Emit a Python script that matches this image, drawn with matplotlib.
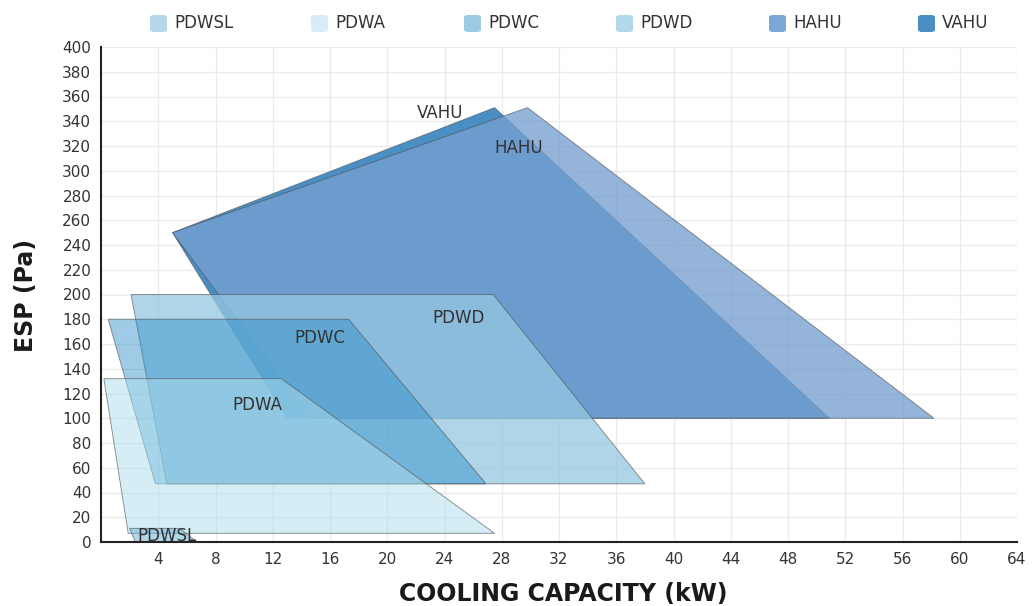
import matplotlib.pyplot as plt
from matplotlib.patches import Polygon, FancyBboxPatch

# series names (legend order)
names = ['PDWSL', 'PDWA', 'PDWC', 'PDWD', 'HAHU', 'VAHU']

# polygon vertices: cooling capacity (kW) / ESP (Pa)
pdwsl_kw = [2.0, 5.5, 6.7, 2.4]
pdwsl_pa = [11, 11, 0, 0]
pdwa_kw = [0.2, 12.6, 27.5, 1.9]
pdwa_pa = [132, 132, 7, 7]
pdwc_kw = [0.5, 17.3, 26.9, 3.8]
pdwc_pa = [180, 180, 47, 47]
pdwd_kw = [2.1, 27.4, 38.0, 4.6]
pdwd_pa = [200, 200, 47, 47]
hahu_kw = [5.0, 29.8, 58.2, 14.6]
hahu_pa = [250, 351, 100, 100]
vahu_kw = [5.0, 27.5, 50.9, 13.0]
vahu_pa = [250, 351, 100, 100]

xticks = list(range(4, 65, 4))
yticks = list(range(0, 401, 20))

legend_colors = ['#b4d8e9', '#d5eef6', '#9dcbe6', '#b3d8eb', '#7ba7d6', '#4a8fc4']
fill_colors = ['#69b1d3', '#addded', '#2a8cc8', '#96c8e2', '#769fd0', '#4a8fc4']
fill_alpha = [0.5, 0.5, 0.45, 0.75, 0.78, 1.0]

shapes = {
    'PDWSL': (pdwsl_kw, pdwsl_pa),
    'PDWA': (pdwa_kw, pdwa_pa),
    'PDWC': (pdwc_kw, pdwc_pa),
    'PDWD': (pdwd_kw, pdwd_pa),
    'HAHU': (hahu_kw, hahu_pa),
    'VAHU': (vahu_kw, vahu_pa),
}
# where the series names are written
label_pos = {
    'VAHU': (23.7, 347), 'HAHU': (29.2, 318), 'PDWD': (25.0, 181),
    'PDWC': (15.3, 165), 'PDWA': (10.9, 111), 'PDWSL': (4.6, 5),
}

plt.rcParams['font.family'] = ['DejaVu Sans']

W, H = 1033, 606
fig = plt.figure(figsize=(W / 100, H / 100), dpi=100)
ax = fig.add_axes([101 / W, 64 / H, 916 / W, 495 / H])

# last legend entry is drawn first (bottom)
for i, name in enumerate(reversed(names)):
    k = names.index(name)
    xs, ys = shapes[name]
    pts = list(zip(xs, ys))
    ax.add_patch(Polygon(pts, closed=True, facecolor=fill_colors[k],
                         alpha=fill_alpha[k], edgecolor='none', zorder=2 + i))
    ax.add_patch(Polygon(pts, closed=True, fill=False, edgecolor='#505050',
                         linewidth=0.7, alpha=0.6, zorder=2 + i))

for name in names:
    tx, ty = label_pos[name]
    ax.text(tx, ty, name, ha='center', va='center', fontsize=12,
            color='#333333', zorder=20)

ax.set_xlim(0, 64)
ax.set_ylim(0, 400)
ax.set_xticks(xticks)
ax.set_yticks(yticks)
ax.tick_params(length=0, labelsize=11, colors='#333333', pad=7)
ax.grid(True, color='#ebebeb', linewidth=1, zorder=0)
ax.set_axisbelow(True)
for s in ['top', 'right']:
    ax.spines[s].set_visible(False)
for s in ['left', 'bottom']:
    ax.spines[s].set_color('#222222')
    ax.spines[s].set_linewidth(1.5)
    ax.spines[s].set_zorder(30)

fig.text(563 / W, 1 - 594 / H, 'COOLING CAPACITY (kW)', ha='center',
         va='center', fontsize=17, fontweight='bold', color='#1a1a1a')
fig.text(26 / W, 1 - 295 / H, 'ESP (Pa)', ha='center', va='center',
         rotation=90, fontsize=17, fontweight='bold', color='#1a1a1a')

# legend along the top, rounded swatches
leg_x = [150, 311, 464, 616, 769, 918]
for name, c, lx in zip(names, legend_colors, leg_x):
    fig.add_artist(FancyBboxPatch((lx / W, 1 - 32 / H), 17 / W, 17 / H,
                                  boxstyle='round,pad=0,rounding_size=0.004',
                                  transform=fig.transFigure, facecolor=c,
                                  edgecolor='none'))
    fig.text((lx + 24) / W, 1 - 23.5 / H, name, ha='left', va='center',
             fontsize=12, color='#333333')

fig.savefig('out.png', dpi=100)
